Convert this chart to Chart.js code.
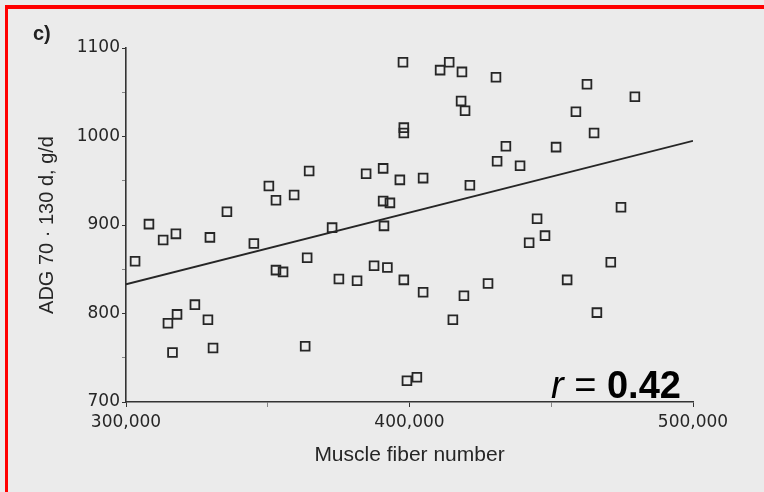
<!DOCTYPE html>
<html>
<head>
<meta charset="utf-8">
<script src="https://cdn.jsdelivr.net/npm/chart.js@4.4.1/dist/chart.umd.min.js"></script>
<style>
  html, body { margin: 0; padding: 0; background: #ebebeb; }
  #wrap  { position: relative; width: 764px; height: 492px; overflow: hidden; background: #ebebeb; }
  #frame { position: absolute; left: 5px; top: 5px; width: 800px; height: 520px;
           border-left: 3px solid #ff0000; border-top: 4px solid #ff0000; }
  #chart { position: absolute; left: 0; top: 0; }
  #panel { position: absolute; left: 33px; top: 22px; font: bold 20px "Liberation Sans", Arial, sans-serif; color: #222; }
  #rval  { position: absolute; left: 551px; top: 366px; font: 38px/38px "Liberation Sans", Arial, sans-serif; color: #000; white-space: nowrap; }
  #rval i { font-style: italic; }
  #rval b { font-weight: bold; }
</style>
</head>
<body>
<div id="wrap">
  <div id="frame"></div>
  <canvas id="chart" width="764" height="492"></canvas>
  <div id="panel">c)</div>
  <div id="rval"><i>r</i> = <b>0.42</b></div>
</div>
<script>
// ── DATA ─────────────────────────────────
const fiberNum = [
  303200, 308100, 313100, 317600, 314800, 318000, 316400, 324300, 328900, 329600,
  330700, 335600, 345100, 350400, 352900, 352900, 355400, 359300, 364600, 363900,
  363200, 372700, 375100, 381500, 384700, 387500, 390700, 390700, 393100, 391000,
  392200, 396600, 398000, 398000, 397700, 398000, 399100, 402600, 404800, 404800,
  410800, 414000, 415300, 418500, 418200, 419600, 419200, 421300, 427700, 430500,
  430900, 434000, 439000, 442200, 445000, 447800, 451700, 455600, 458700, 462600,
  465100, 466100, 471000, 474600, 479500
];
const adg = [
   859,  901,  883,  890,  789,  799,  756,  810,  793,  886,
   761,  915,  879,  944,  928,  849,  847,  934,  961,  863,
   763,  897,  839,  837,  958,  854,  964,  927,  925,  899,
   852,  951, 1010, 1004, 1084,  838,  724,  728,  824,  953,
  1075, 1084,  793, 1073, 1040, 1029,  820,  945,  834, 1067,
   972,  989,  967,  880,  907,  888,  988,  838, 1028, 1059,
  1004,  801,  858,  920, 1045
];

// regression line end points
const fitX = [300000, 500000];
const fitY = [833, 995];

const xTicks = [300000, 400000, 500000];
const yTicks = [700, 800, 900, 1000, 1100];

const ink = '#262626';

// ── CHART ────────────────────────────────
const pts  = fiberNum.map((x, i) => ({ x, y: adg[i] }));
const line = fitX.map((x, i) => ({ x, y: fitY[i] }));

new Chart(document.getElementById('chart').getContext('2d'), {
  type: 'scatter',
  data: {
    datasets: [
      {
        label: 'ADG',
        data: pts,
        pointStyle: 'rect',
        pointRadius: 6.2,
        pointBorderWidth: 1.8,
        pointBorderColor: ink,
        pointBackgroundColor: 'rgba(0,0,0,0)'
      },
      {
        label: 'fit',
        type: 'line',
        data: line,
        borderColor: ink,
        borderWidth: 1.8,
        pointRadius: 0,
        fill: false
      }
    ]
  },
  options: {
    responsive: false,
    animation: false,
    layout: { padding: { left: 0, top: 48, right: 71, bottom: 0 } },
    plugins: { legend: { display: false }, tooltip: { enabled: false } },
    scales: {
      x: {
        type: 'linear', min: 300000, max: 500000,
        afterFit: s => { s.height = 90; },
        ticks: {
          stepSize: 50000, padding: 5, color: ink, maxRotation: 0,
          font: { family: 'DejaVu Sans', size: 17 },
          callback: v => xTicks.includes(v) ? v.toLocaleString('en-US') : ''
        },
        grid: {
          drawOnChartArea: false, tickLength: 5,
          tickColor: c => xTicks.includes(c.tick && c.tick.value) ? '#333' : 'rgba(51,51,51,.55)'
        },
        border: { display: true, color: '#333', width: 1.6 },
        title: {
          display: true, text: 'Muscle fiber number', color: ink,
          font: { family: 'Liberation Sans', size: 21 },
          padding: { top: 0, bottom: 24 }
        }
      },
      y: {
        min: 700, max: 1100,
        afterFit: s => { s.width = 126; },
        ticks: {
          stepSize: 50, padding: 2, color: ink,
          font: { family: 'DejaVu Sans', size: 17 },
          callback: v => yTicks.includes(v) ? String(v) : ''
        },
        grid: {
          drawOnChartArea: false, tickLength: 4,
          tickColor: c => yTicks.includes(c.tick && c.tick.value) ? '#333' : 'rgba(51,51,51,.55)'
        },
        border: { display: true, color: '#333', width: 1.6 },
        title: {
          display: true, text: 'ADG 70 · 130 d, g/d', color: ink,
          font: { family: 'Liberation Sans', size: 20 },
          padding: { top: 35, bottom: 0 }
        }
      }
    }
  }
});
</script>
</body>
</html>
